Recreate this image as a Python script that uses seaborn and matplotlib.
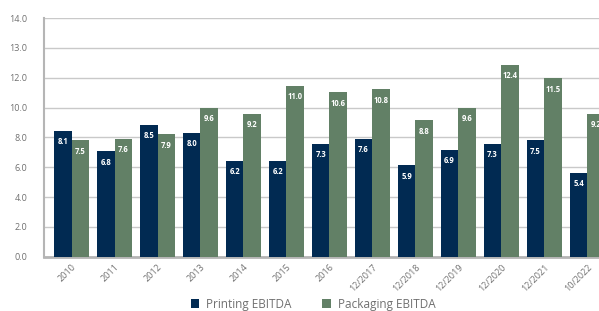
import numpy as np
import pandas as pd
import matplotlib
matplotlib.use("Agg")
import matplotlib.pyplot as plt
import seaborn as sns

# ── Data ─────────────────────────────────────────────────────────────────────
periods = ["2010", "2011", "2012", "2013", "2014", "2015", "2016",
           "12/2017", "12/2018", "12/2019", "12/2020", "12/2021", "10/2022"]
printing_ebitda = [8.1, 6.8, 8.5, 8.0, 6.2, 6.2, 7.3, 7.6, 5.9, 6.9, 7.3, 7.5, 5.4]
packaging_ebitda = [7.5, 7.6, 7.9, 9.6, 9.2, 11.0, 10.6, 10.8, 8.8, 9.6, 12.4, 11.5, 9.2]
series_names = ["Printing EBITDA", "Packaging EBITDA"]
ytick_labels = ["0.0", "2.0", "4.0", "6.0", "8.0", "10.0", "12.0", "13.0", "14.0"]

# ── Style ────────────────────────────────────────────────────────────────────
NAVY = "#012a52"
GREEN = "#628066"
GRID = "#c9c9c9"
TEXT = "#707070"

df = pd.DataFrame({
    "period": periods * 2,
    "value": printing_ebitda + packaging_ebitda,
    "series": [series_names[0]] * len(periods) + [series_names[1]] * len(periods),
})

sns.set_theme(style="white")
plt.rcParams["font.family"] = ["Open Sans", "DejaVu Sans"]

fig = plt.figure(figsize=(5.99, 3.11), dpi=100)
ax = fig.add_axes([0.0735, 0.1746, 0.953, 0.7675])

sns.barplot(data=df, x="period", y="value", hue="series", order=periods,
            hue_order=series_names, palette=[NAVY, GREEN], width=0.82,
            saturation=1, errorbar=None, linewidth=0, ax=ax, zorder=3)

for cont in ax.containers:
    ax.bar_label(cont, fmt="%.1f", padding=-11, color="white",
                 fontsize=5.5, fontweight="bold")

# y axis: 8 equal intervals, labels as printed on the original
ymax = 15.4
ax.set_ylim(0, ymax)
ax.set_yticks(np.linspace(0, ymax, len(ytick_labels)))
ax.set_yticklabels(ytick_labels)
ax.set_xlim(-0.64, len(periods) - 0.36)
ax.yaxis.grid(True, color=GRID, lw=1, zorder=0)
ax.xaxis.grid(False)

ax.tick_params(axis="y", length=0, pad=12, labelsize=6.5, labelcolor=TEXT)
ax.tick_params(axis="x", length=0, pad=4, labelsize=6.5, labelcolor=TEXT)
for lbl in ax.get_xticklabels():
    lbl.set_rotation(45)
    lbl.set_ha("right")
    lbl.set_rotation_mode("anchor")
ax.set_xlabel("")
ax.set_ylabel("")

for side in ["top", "right"]:
    ax.spines[side].set_visible(False)
ax.spines["left"].set_color("#b5b5b5")
ax.spines["left"].set_linewidth(1.5)
ax.spines["bottom"].set_color("#b5b5b5")
ax.spines["bottom"].set_linewidth(2)

ax.legend(loc="center", bbox_to_anchor=(0.523, 0.022), bbox_transform=fig.transFigure,
          ncol=2, frameon=False, fontsize=8.5, handlelength=0.7, handleheight=0.7,
          columnspacing=2.6, handletextpad=0.6, labelcolor=TEXT)

fig.savefig("out.png", dpi=100)
plt.close(fig)
